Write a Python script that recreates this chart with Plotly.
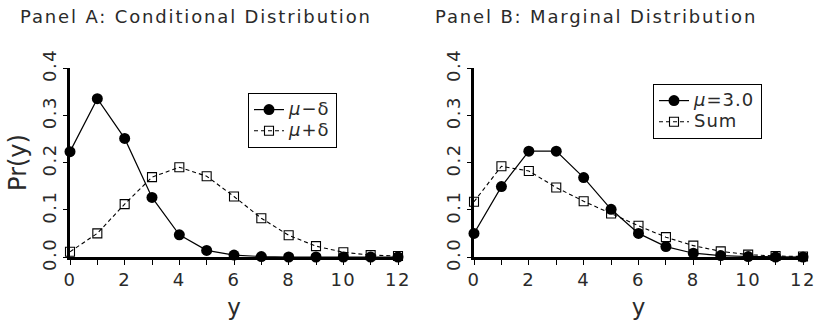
import plotly.graph_objects as go

y_vals = list(range(13))
# Panel A: conditional distributions
pr_minus = [0.223, 0.335, 0.251, 0.126, 0.047, 0.014, 0.004, 0.001, 0.000, 0.000, 0.000, 0.000, 0.000]
pr_plus = [0.011, 0.050, 0.112, 0.169, 0.190, 0.171, 0.128, 0.082, 0.046, 0.023, 0.010, 0.004, 0.002]
# Panel B: marginal distribution
pr_mu = [0.050, 0.149, 0.224, 0.224, 0.168, 0.101, 0.050, 0.022, 0.008, 0.003, 0.001, 0.000, 0.000]
pr_sum = [0.117, 0.192, 0.182, 0.147, 0.118, 0.092, 0.066, 0.042, 0.024, 0.012, 0.005, 0.002, 0.001]

x_ticks = [0, 2, 4, 6, 8, 10, 12]
y_ticks = [0.0, 0.1, 0.2, 0.3, 0.4]
y_ticktext = ["0.0", "0.1", "0.2", "0.3", "0.4"]

FONT = "DejaVu Sans"
TXT = "#2a2a2a"

def sp(t, ls=2.0, size=None):
    st = "letter-spacing:%spx" % ls
    if size:
        st += ";font-size:%spx" % size
    return '<span style="%s">%s</span>' % (st, t)

fig = go.Figure()

def add_pair(solid, dashed, name_s, name_d, xa, ya, leg):
    fig.add_trace(go.Scatter(
        x=y_vals, y=solid, mode="lines+markers", name=name_s,
        line=dict(color="black", width=1.2),
        marker=dict(symbol="circle", size=11, color="black"),
        xaxis=xa, yaxis=ya, legend=leg, cliponaxis=False))
    fig.add_trace(go.Scatter(
        x=y_vals, y=dashed, mode="lines+markers", name=name_d,
        line=dict(color="black", width=1.1, dash="4px,3px"),
        marker=dict(symbol="square-open", size=9, color="black", line=dict(width=1.1)),
        xaxis=xa, yaxis=ya, legend=leg, cliponaxis=False))

add_pair(pr_minus, pr_plus, sp("<i>μ</i>−δ", 1, 18), sp("<i>μ</i>+δ", 1, 18), "x", "y", "legend")
add_pair(pr_mu, pr_sum, sp("<i>μ</i>=3.0", 1, 18), sp("Sum", 1, 18), "x2", "y2", "legend2")

xcommon = dict(range=[0, 12], tickvals=x_ticks, ticktext=[sp(str(v), 1.5) for v in x_ticks],
               showgrid=False, zeroline=False,
               showline=True, linecolor="black", linewidth=2.5,
               ticks="outside", ticklen=5, tickwidth=1, tickcolor="black",
               minor=dict(dtick=1, ticks="outside", ticklen=5, tickwidth=1, tickcolor="black"),
               tickfont=dict(family=FONT, size=18, color=TXT),
               title=dict(text="y", font=dict(family=FONT, size=23, color=TXT), standoff=10))
ycommon = dict(range=[0, 0.4], tickvals=y_ticks, ticktext=[sp(t, 1.5) for t in y_ticktext],
               showgrid=False,
               zeroline=False, showline=True, linecolor="black", linewidth=2.5,
               ticks="outside", ticklen=4, tickwidth=1, tickcolor="black",
               tickangle=-90, tickfont=dict(family=FONT, size=18, color=TXT))

legcommon = dict(xanchor="left", yanchor="top", bordercolor="black", borderwidth=1,
                 bgcolor="white", font=dict(family=FONT, size=14, color=TXT),
                 itemwidth=30, tracegroupgap=0, itemsizing="trace")

fig.update_layout(
    width=820, height=325, margin=dict(l=0, r=0, t=0, b=0, autoexpand=False),
    paper_bgcolor="white", plot_bgcolor="white",
    xaxis=dict(domain=[70/820, 398/820], anchor="y", **xcommon),
    yaxis=dict(domain=[68/325, 257/325], anchor="x",
               title=dict(text="Pr(y)", font=dict(family=FONT, size=24, color=TXT), standoff=6),
               **ycommon),
    xaxis2=dict(domain=[474/820, 803/820], anchor="y2", **xcommon),
    yaxis2=dict(domain=[68/325, 257/325], anchor="x2", **ycommon),
    legend=dict(x=248/820, y=1-93/325, **legcommon),
    legend2=dict(x=653/820, y=1-84/325, **legcommon),
    annotations=[
        dict(text=sp("Panel A: Conditional Distribution", 1.85), x=18/820, y=1-4/325,
             xref="paper", yref="paper", xanchor="left", yanchor="top",
             showarrow=False, font=dict(family=FONT, size=18, color=TXT)),
        dict(text=sp("Panel B: Marginal Distribution", 1.85), x=433/820, y=1-4/325,
             xref="paper", yref="paper", xanchor="left", yanchor="top",
             showarrow=False, font=dict(family=FONT, size=18, color=TXT)),
    ],
)

fig.write_html("out.html")
